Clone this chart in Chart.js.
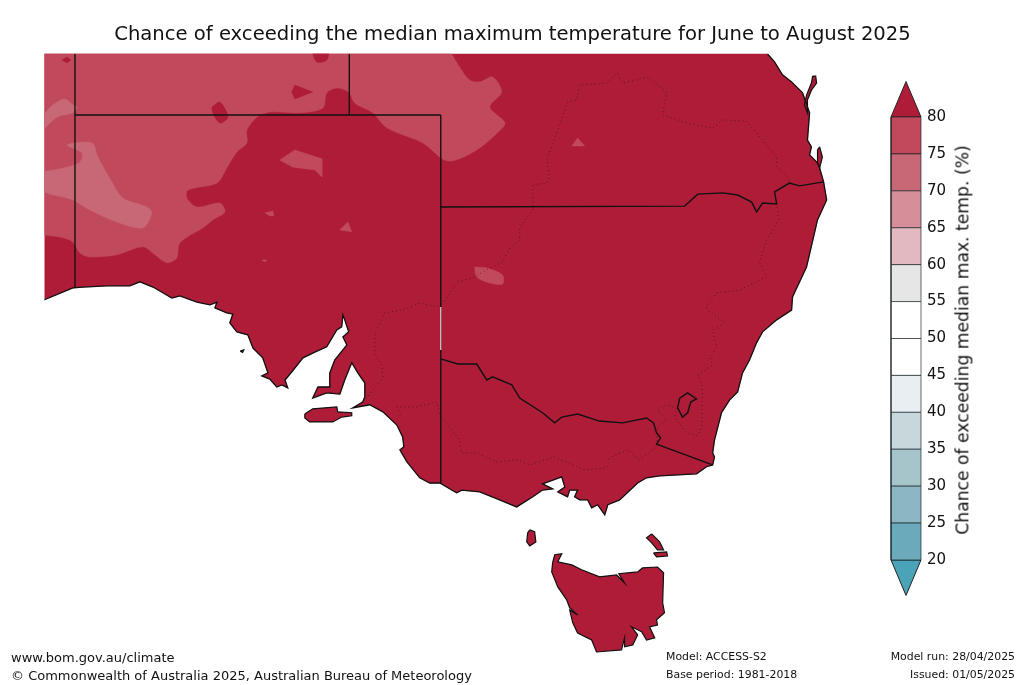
<!DOCTYPE html>
<html>
<head>
<meta charset="utf-8">
<title>Chance of exceeding the median maximum temperature</title>
<script src="https://cdn.jsdelivr.net/npm/chart.js@4/dist/chart.umd.min.js"></script>
<style>
    html, body { margin: 0; padding: 0; background: #fff; }
    body { width: 1024px; height: 685px; position: relative; overflow: hidden; font-family: "DejaVu Sans", sans-serif; color: #111; }
    canvas { position: absolute; top: 0; }
    #mapa { left: 0; }
    #barra { left: 880px; }
    .texto { position: absolute; white-space: nowrap; line-height: 1; }
    #titulo { left: 0; width: 1025px; top: 24px; text-align: center; font-size: 19.6px; }
    #etiqueta { left: 963px; top: 340px; font-size: 17.2px; transform: translate(-50%, -50%) rotate(-90deg); }
    .grande { font-size: 13px; left: 11px; }
    .chico { font-size: 10.9px; }
</style>
</head>
<body>
<canvas id="mapa" width="1024" height="685"></canvas>
<canvas id="barra" width="95" height="685"></canvas>
<div class="texto" id="titulo">Chance of exceeding the median maximum temperature for June to August 2025</div>
<div class="texto" id="etiqueta"></div>
<div class="texto grande" style="top:651px">www.bom.gov.au/climate</div>
<div class="texto grande" style="top:669px">© Commonwealth of Australia 2025, Australian Bureau of Meteorology</div>
<div class="texto chico" style="left:666px;top:652px">Model: ACCESS-S2</div>
<div class="texto chico" style="left:666px;top:670px">Base period: 1981-2018</div>
<div class="texto chico" style="right:9px;top:652px">Model run: 28/04/2025</div>
<div class="texto chico" style="right:9px;top:670px">Issued: 01/05/2025</div>
<script>
// Colorbar
const tickValues = [20, 25, 30, 35, 40, 45, 50, 55, 60, 65, 70, 75, 80];
const bandColors = ["#6AAABB", "#8AB7C1", "#A5C5CB", "#C8D7DC", "#E8EEF1", "#FFFFFF", "#FFFFFF", "#E6E6E6", "#E3B9C1", "#D68F99", "#C86876", "#C04A5C"];
const overColor = "#AF1C38";
const underColor = "#4BA3B7";
const axisLabel = "Chance of exceeding median max. temp. (%)";

// Coastline, lon / lat
const coastLon = [127.98,128.93,129.26,130.05,130.80,131.13,131.56,132.18,132.44,133.00,133.43,133.66,133.59,133.98,134.18,134.08,134.31,134.67,134.84,135.16,135.33,135.13,135.39,135.62,135.79,135.98,135.89,136.11,136.48,136.87,137.26,137.59,137.75,137.79,137.85,137.98,137.79,137.92,137.52,137.36,137.36,136.97,136.80,137.26,137.69,137.85,138.08,138.28,138.51,138.51,138.44,138.11,138.67,139.10,139.56,139.75,139.79,139.66,139.89,140.31,140.64,140.97,141.36,141.52,141.69,142.28,142.93,143.49,144.02,144.34,144.67,144.34,144.97,145.07,144.84,145.16,145.23,145.49,145.39,145.56,145.82,145.95,146.15,146.38,146.48,146.87,147.46,147.75,148.18,149.39,149.72,149.92,149.98,149.92,149.98,150.21,150.48,150.74,150.90,151.13,151.36,151.56,152.02,152.51,152.54,153.00,153.36,153.66,153.56,153.43,153.36,153.10,153.16,153.03,153.10,152.87,152.51,152.21,151.95,151.72];
const coastLat = [-32.03,-31.64,-31.61,-31.57,-31.57,-31.44,-31.61,-31.97,-31.90,-32.10,-32.19,-32.10,-32.29,-32.45,-32.49,-32.78,-33.07,-33.17,-33.60,-33.92,-34.41,-34.51,-34.61,-34.87,-34.80,-34.90,-34.64,-34.38,-33.92,-33.73,-33.56,-33.01,-32.91,-32.52,-32.68,-33.07,-33.24,-33.50,-33.99,-34.41,-34.87,-34.87,-35.23,-35.06,-35.10,-34.64,-34.08,-34.41,-34.74,-35.19,-35.36,-35.55,-35.45,-35.68,-36.11,-36.50,-36.82,-36.92,-37.31,-37.83,-38.00,-38.00,-38.23,-38.32,-38.23,-38.29,-38.55,-38.78,-38.45,-38.23,-38.19,-38.03,-37.80,-38.13,-38.29,-38.45,-38.23,-38.23,-38.45,-38.55,-38.55,-38.81,-38.71,-39.04,-38.71,-38.55,-38.00,-37.83,-37.77,-37.70,-37.47,-37.41,-37.15,-37.02,-36.60,-35.71,-35.29,-35.03,-34.41,-33.99,-33.43,-33.07,-32.68,-32.36,-31.93,-30.96,-29.42,-28.77,-28.18,-27.73,-27.56,-27.30,-27.04,-26.82,-25.93,-25.28,-24.92,-24.69,-24.27,-24.01];

// Islands
const kangarooLon = [136.54,136.80,137.59,137.62,138.08,138.08,137.75,137.46,136.70,136.54];
const kangarooLat = [-35.75,-35.58,-35.52,-35.68,-35.71,-35.81,-35.85,-36.01,-36.01,-35.88];
const tasmaniaLon = [144.67,144.74,144.97,144.84,145.30,145.62,146.21,146.77,147.03,146.84,147.46,147.62,148.11,148.31,148.28,148.34,148.08,148.11,147.85,148.02,147.75,147.59,147.26,147.46,147.30,147.03,147.03,146.93,146.11,145.95,145.49,145.33,145.23,145.49,145.23,145.13,144.84,144.64];
const tasmaniaLat = [-40.60,-40.34,-40.31,-40.57,-40.67,-40.83,-41.06,-41.00,-41.26,-40.96,-40.90,-40.77,-40.74,-40.93,-41.91,-42.23,-42.46,-42.63,-42.69,-43.05,-43.12,-42.85,-42.69,-42.95,-43.28,-43.34,-43.05,-43.44,-43.51,-43.12,-42.89,-42.56,-42.14,-42.30,-42.07,-41.81,-41.39,-40.90];
const kingLon = [143.92,144.08,144.12,143.92,143.82,143.85];
const kingLat = [-39.53,-39.59,-39.92,-40.05,-39.92,-39.63];
const flindersLon = [147.92,148.18,148.31,148.11,147.92,147.75];
const flindersLat = [-39.66,-39.92,-40.18,-40.18,-39.95,-39.79];
const barrenLon = [147.98,148.41,148.44,148.08];
const barrenLat = [-40.28,-40.25,-40.38,-40.41];
const moretonLon = [153.43,153.52,153.43,153.36,153.36];
const moretonLat = [-27.04,-27.37,-27.73,-27.56,-27.14];
const fraserLon = [153.20,153.30,153.33,153.16,153.03,153.03,152.93,153.00,153.16];
const fraserLat = [-24.73,-24.73,-24.96,-25.19,-25.51,-25.93,-25.67,-25.35,-24.96];
const islotLon = [134.42,134.54,134.50];
const islotLat = [-33.70,-33.66,-33.74];

// State borders
const qldNswLon = [141,149.00,149.43,150.25,150.74,151.20,151.36,151.56,152.02,151.95,152.44,152.77,153.56];
const qldNswLat = [-29,-28.97,-28.58,-28.54,-28.61,-28.84,-29.16,-28.87,-28.90,-28.51,-28.22,-28.31,-28.18];
const murrayLon = [141.00,141.56,142.18,142.51,142.70,143.33,143.59,144.34,144.74,144.97,145.49,146.21,146.97,147.75,147.98,148.08,148.21,148.08,149.92];
const murrayLat = [-33.95,-34.12,-34.12,-34.64,-34.54,-34.80,-35.23,-35.71,-36.04,-35.85,-35.75,-35.98,-36.04,-35.88,-36.04,-36.37,-36.53,-36.73,-37.41];
const actLon = [148.84,149.10,149.39,149.20,149.10,148.93,148.77,148.84];
const actLat = [-35.23,-35.06,-35.26,-35.36,-35.71,-35.85,-35.55,-35.23];

// Murray-Darling basin (dotted)
const basinNorteLon = [138.54,139.10,139.07,138.84,138.84,139.16,139.75,140.31,140.87,141.07,141.56,142.05,142.61,143.03,143.26,143.59,143.59,144.02,144.02,144.48,144.57,144.48,144.84,145.16,145.46,145.56,146.44,146.80,146.97,147.79,148.41,148.28,149.16,149.92,150.25,151.03,152.02,152.02,152.41,152.44];
const basinNorteLat = [-35.26,-34.57,-34.15,-33.82,-33.11,-32.45,-32.36,-32.13,-32.26,-32.13,-31.44,-31.31,-30.99,-30.79,-30.34,-30.08,-29.68,-29.10,-28.28,-28.22,-28.02,-27.47,-26.49,-25.58,-25.51,-25.02,-24.96,-24.63,-24.96,-24.76,-25.25,-26.00,-26.29,-26.42,-26.16,-26.20,-27.37,-27.70,-28.05,-28.22];
const basinSurLon = [152.02,152.08,151.69,151.46,151.69,150.80,150.05,149.69,149.75,150.31,149.92,150.05,149.85,149.92,149.43,149.59,149.56,149.43,149.07,148.67,148.74,148.41,148.11,148.41,148.11,148.08,147.52,147.13,146.54,146.44,145.72,144.74,143.92,143.52,142.84,142.18,141.69,141.62,140.97,140.87,140.21,139.56,139.72];
const basinSurLat = [-28.87,-29.42,-30.08,-30.82,-31.28,-31.71,-31.80,-32.26,-32.36,-32.78,-33.01,-33.56,-33.92,-34.15,-34.48,-34.87,-36.17,-36.46,-36.37,-35.85,-35.55,-35.45,-35.62,-35.94,-36.17,-36.82,-37.25,-36.92,-37.18,-37.51,-37.57,-37.15,-37.41,-37.25,-37.31,-37.02,-37.02,-36.60,-35.78,-35.36,-35.52,-35.52,-35.88];

// 75-80 % region and the >80 % patches inside it
const zona75Lon = [127.9,127.98,128.51,128.93,129.16,129.49,130.38,131.23,131.62,132.02,132.34,132.44,133.20,133.52,133.92,133.75,133.00,132.67,132.70,133.66,133.98,134.31,134.64,134.64,134.97,135.39,136.38,137.13,137.26,137.59,137.98,138.18,138.77,139.23,140.41,141.23,142.18,143.03,143.10,142.61,143.00,142.70,142.28,141.95,141.62,141.36,141.30,127.9];
const zona75Lat = [-29.88,-29.91,-29.98,-30.14,-30.50,-30.63,-30.56,-30.30,-30.56,-30.82,-30.66,-30.17,-29.68,-29.42,-29.16,-28.87,-29.00,-28.71,-28.45,-28.22,-27.73,-27.21,-26.91,-26.49,-26.07,-25.90,-25.93,-25.77,-25.28,-25.12,-25.25,-25.61,-25.93,-26.42,-26.91,-27.50,-27.14,-26.42,-26.23,-25.74,-25.25,-24.76,-24.92,-24.86,-24.44,-24.01,-23.9,-23.9];
const huecoALon = [136.77,137.30,137.26,136.93];
const huecoALat = [-23.9,-23.9,-24.21,-24.27];
const huecoBLon = [136.21,136.80,136.21,136.11];
const huecoBLat = [-25.02,-25.25,-25.48,-25.25];
const huecoCLon = [133.49,133.75,134.02,133.75,133.52];
const huecoCLat = [-25.74,-25.58,-26.07,-26.26,-25.93];
const huecoDLon = [128.57,128.74,128.87,128.74];
const huecoDLat = [-24.21,-24.11,-24.21,-24.30];

// 75-80 % patches in the dark area
const manchaALon = [135.72,136.21,137.10,137.10,136.87,136.15];
const manchaALat = [-27.47,-27.14,-27.43,-28.02,-27.79,-27.70];
const manchaBLon = [135.23,135.49,135.52,135.39];
const manchaBLat = [-29.19,-29.13,-29.29,-29.29];
const manchaCLon = [137.69,137.95,138.08];
const manchaCLat = [-29.75,-29.49,-29.81];
const manchaDLon = [135.13,135.30,135.23];
const manchaDLat = [-30.73,-30.73,-30.79];
const manchaELon = [145.30,145.49,145.72];
const manchaELat = [-27.01,-26.75,-27.01];
const manchaFLon = [142.11,142.51,143.03,143.03,142.61,142.18];
const manchaFLat = [-30.96,-30.99,-31.22,-31.51,-31.48,-31.28];

// 70-75 % regions
const zona70ALon = [127.9,128.28,128.67,128.93,129.07,128.93,128.41,128.11,127.9];
const zona70ALat = [-26.07,-25.67,-25.48,-25.67,-25.74,-25.93,-26.07,-26.33,-26.55];
const zona70BLon = [127.9,128.74,129.16,129.23,128.74,129.56,129.75,130.21,130.57,131.36,131.52,131.23,130.38,129.49,128.93,127.9];
const zona70BLat = [-27.86,-27.70,-27.53,-27.24,-26.98,-26.91,-27.37,-28.18,-28.71,-29.00,-29.19,-29.68,-29.49,-29.10,-28.77,-28.45];

function puntos(lon, lat) {
    return lon.map((v, i) => ({ x: v, y: lat[i] }));
}

function relleno(lon, lat, color, linea, curva) {
    const pts = puntos(lon, lat);
    pts.push(pts[0]);
    return {
        data: pts, showLine: true, fill: "shape", backgroundColor: color,
        borderColor: linea || color, borderWidth: linea ? 1.2 : 0.5, pointRadius: 0, tension: curva || 0
    };
}

function linea(lon, lat, color, ancho, dash) {
    return {
        data: puntos(lon, lat), showLine: true, fill: false, borderColor: color,
        borderWidth: ancho, borderDash: dash || [], pointRadius: 0, tension: 0
    };
}

const oscuro = overColor;
const c75 = bandColors[11];
const c70 = bandColors[10];
const negro = "#111111";
const suave = 0.3;
const puntitos = "rgba(30,10,15,0.7)";
const capas = [];

// land
capas.push(relleno([...coastLon, 151.7, 127.9, 127.9], [...coastLat, -23.9, -23.9, -32.05], oscuro));
// forecast colours
capas.push(relleno(zona75Lon, zona75Lat, c75, null, suave));
capas.push(relleno(huecoALon, huecoALat, oscuro, null, suave));
capas.push(relleno(huecoBLon, huecoBLat, oscuro));
capas.push(relleno(huecoCLon, huecoCLat, oscuro, null, suave));
capas.push(relleno(huecoDLon, huecoDLat, oscuro));
capas.push(relleno(zona70ALon, zona70ALat, c70, null, suave));
capas.push(relleno(zona70BLon, zona70BLat, c70, null, suave));
capas.push(relleno(manchaALon, manchaALat, c75));
capas.push(relleno(manchaBLon, manchaBLat, c75));
capas.push(relleno(manchaCLon, manchaCLat, c75));
capas.push(relleno(manchaDLon, manchaDLat, c75));
capas.push(relleno(manchaELon, manchaELat, c75));
capas.push(relleno(manchaFLon, manchaFLat, c75, null, suave));
// islands
capas.push(relleno(kangarooLon, kangarooLat, oscuro, negro));
capas.push(relleno(tasmaniaLon, tasmaniaLat, oscuro, negro));
capas.push(relleno(kingLon, kingLat, oscuro, negro));
capas.push(relleno(flindersLon, flindersLat, oscuro, negro));
capas.push(relleno(barrenLon, barrenLat, oscuro, negro));
capas.push(relleno(moretonLon, moretonLat, oscuro, negro));
capas.push(relleno(fraserLon, fraserLat, oscuro, negro));
capas.push(relleno(islotLon, islotLat, oscuro, negro));
// lines
capas.push(linea(basinNorteLon, basinNorteLat, puntitos, 0.8, [1, 3]));
capas.push(linea(basinSurLon, basinSurLat, puntitos, 0.8, [1, 3]));
capas.push(linea(coastLon, coastLat, negro, 1.3));
capas.push(linea([129, 129], [-24, -31.64], negro, 1.4));
capas.push(linea([129, 141], [-26, -26], negro, 1.4));
capas.push(linea([138, 138], [-24, -26], negro, 1.4));
capas.push(linea([141, 141], [-26, -38], negro, 1.4));
capas.push(linea([141, 141], [-32.26, -33.66], "#DDDDDD", 1.2));
capas.push(linea(qldNswLon, qldNswLat, negro, 1.4));
capas.push(linea(murrayLon, murrayLat, negro, 1.4));
capas.push(linea(actLon, actLat, negro, 1.4));

// first dataset is drawn last, so order goes down
capas.forEach((c, i) => { c.order = capas.length - i; });

new Chart(document.getElementById("mapa"), {
    type: "scatter",
    data: { datasets: capas },
    options: {
        responsive: false,
        animation: false,
        layout: { padding: { left: 44.5, top: 53.66, right: 156.5, bottom: 18 } },
        plugins: { legend: { display: false }, tooltip: { enabled: false } },
        scales: {
            x: { type: "linear", min: 128, max: 155, display: false },
            y: { type: "linear", min: -44, max: -24, display: false }
        }
    }
});

// Colorbar as polygons on its own value axis
const bandas = bandColors.map((color, i) => ({
    data: puntos([0, 1, 1, 0, 0], [tickValues[i], tickValues[i], tickValues[i + 1], tickValues[i + 1], tickValues[i]]),
    showLine: true, fill: "shape", backgroundColor: color, borderColor: "rgba(20,30,35,0.65)",
    borderWidth: 1, pointRadius: 0, clip: false
}));
bandas.push({
    data: puntos([0, 0.5, 1, 0], [80, 84.8, 80, 80]), showLine: true, fill: "shape", backgroundColor: overColor,
    borderColor: "#222222", borderWidth: 1, pointRadius: 0, clip: false
});
bandas.push({
    data: puntos([0, 0.5, 1, 0], [20, 15.2, 20, 20]), showLine: true, fill: "shape", backgroundColor: underColor,
    borderColor: "#222222", borderWidth: 1, pointRadius: 0, clip: false
});

document.getElementById("etiqueta").textContent = axisLabel;

new Chart(document.getElementById("barra"), {
    type: "scatter",
    data: { datasets: bandas },
    options: {
        responsive: false,
        animation: false,
        layout: { padding: { left: 11, top: 80.1, bottom: 88.1, right: 0 } },
        plugins: { legend: { display: false }, tooltip: { enabled: false } },
        scales: {
            x: { type: "linear", min: 0, max: 1, display: false },
            y: {
                type: "linear",
                position: "right",
                min: 15,
                max: 85,
                border: { display: false },
                grid: { display: false, drawTicks: false },
                afterBuildTicks: axis => { axis.ticks = tickValues.map(v => ({ value: v })); },
                afterFit: axis => { axis.width = 54; },
                ticks: { color: "#111", padding: 6, font: { family: "DejaVu Sans", size: 15 } }
            }
        }
    }
});
</script>
</body>
</html>
